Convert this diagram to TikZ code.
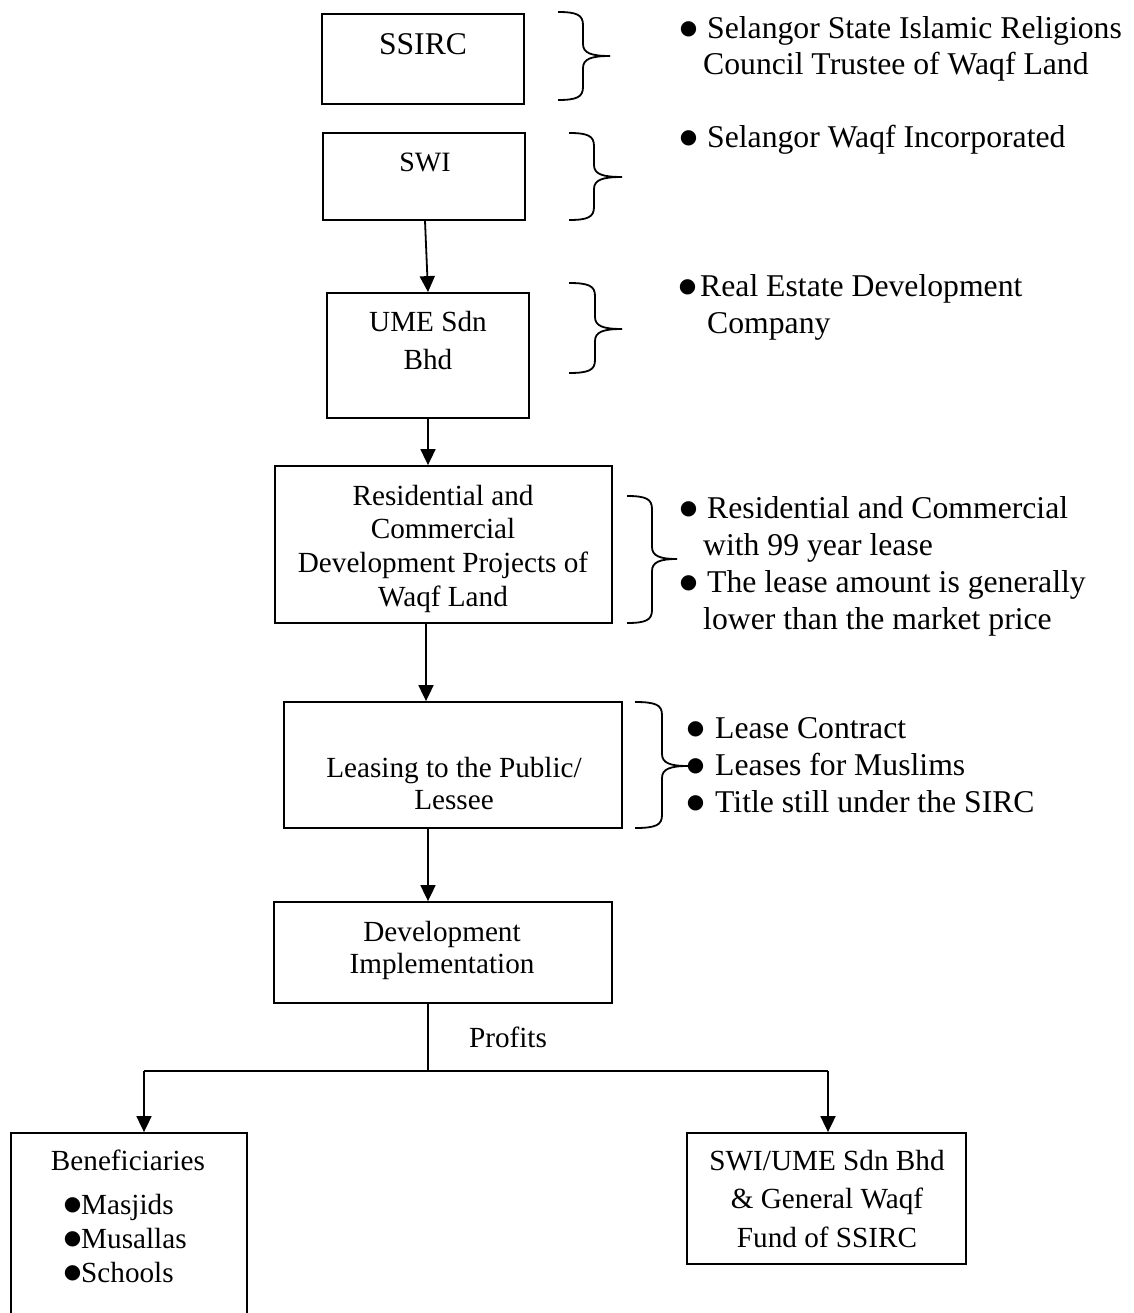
\documentclass[tikz,border=0pt]{standalone}
\usepackage{fontspec}
\setmainfont{Liberation Serif}
\newfontfamily\bulfont{DejaVu Sans}
\usetikzlibrary{arrows.meta}
\newcommand\bul{\makebox[13pt][c]{\raisebox{4pt}{\bulfont\fontsize{20}{20}\selectfont ●}}}
\newcommand\fsz[2]{\fontsize{#1}{#2}\selectfont}
% xl xv xt yt ym yb
\newcommand\mybrace[6]{%
 \draw[brc] (#1,#4) .. controls ({#2-6},#4) and (#2,{#4+3}) .. (#2,{#4+13})
   -- (#2,{#5-12}) .. controls (#2,{#5-3}) and ({#2+8},#5) .. (#3,#5)
   .. controls ({#2+8},#5) and (#2,{#5+3}) .. (#2,{#5+12})
   -- (#2,{#6-13}) .. controls (#2,{#6-3}) and ({#2-6},#6) .. (#1,#6);}
\begin{document}
\begin{tikzpicture}[x=1pt,y=-1pt,
  box/.style={draw, line width=1.8pt, inner sep=0pt, rectangle},
  txt/.style={inner sep=0pt, anchor=base},
  ltxt/.style={inner sep=0pt, anchor=base west},
  arr/.style={line width=1.8pt, -{Triangle[length=16pt,width=15pt]}},
  ln/.style={line width=1.8pt},
  brc/.style={line width=1.8pt},
]
\useasboundingbox (0,0) rectangle (1133,1313);
\fill[white] (0,0) rectangle (1133,1313);
\clip (0,0) rectangle (1133,1313);

% boxes
\node[box, minimum width=202pt, minimum height=90pt]  (ssirc) at (423,59) {};
\node[box, minimum width=202pt, minimum height=87pt]  (swi)   at (424,176.5) {};
\node[box, minimum width=202pt, minimum height=125pt] (ume)   at (428,355.5) {};
\node[box, minimum width=337pt, minimum height=157pt] (res)   at (443.5,544.5) {};
\node[box, minimum width=338pt, minimum height=126pt] (lease) at (453,765) {};
\node[box, minimum width=338pt, minimum height=101pt] (dev)   at (443,952.5) {};
\node[box, minimum width=236pt, minimum height=234pt] (ben)   at (129,1250) {};
\node[box, minimum width=279pt, minimum height=131pt] (fund)  at (826.5,1198.5) {};

% box texts
\node[txt] (ssircT) at (423,55) {\fsz{31.6}{36}SSIRC};
\node[txt] (swiT) at (425,172) {\fsz{28}{32}SWI};
\node[txt] (umeT) at (428,331) {\fsz{29.2}{38}\begin{tabular}[t]{@{}c@{}}UME Sdn\\Bhd\end{tabular}};
\node[txt] (resT) at (443,505) {\fsz{29.2}{33.7}\begin{tabular}[t]{@{}c@{}}Residential and\\Commercial\\Development Projects of\\Waqf Land\end{tabular}};
\node[txt] (leaseT) at (454,777) {\fsz{29.2}{32}\begin{tabular}[t]{@{}c@{}}Leasing to the Public/\\Lessee\end{tabular}};
\node[txt] (devT) at (442,941) {\fsz{29.2}{32}\begin{tabular}[t]{@{}c@{}}Development\\Implementation\end{tabular}};
\node[txt] (benT) at (128,1170) {\fsz{29.2}{34}Beneficiaries};
\node[ltxt] (benL) at (66,1214) {\fsz{29.2}{34}\begin{tabular}[t]{@{}l@{}}\bul\hspace{2pt}Masjids\\\bul\hspace{2pt}Musallas\\\bul\hspace{2pt}Schools\end{tabular}};
\node[txt] (fundT) at (827,1170) {\fsz{29.2}{38.5}\begin{tabular}[t]{@{}c@{}}SWI/UME Sdn Bhd\\\& General Waqf\\Fund of SSIRC\end{tabular}};

% right side notes
\node[ltxt] (n1) at (682,39) {\fsz{31.7}{36}\begin{tabular}[t]{@{}l@{}}\bul\hspace{12pt}Selangor State Islamic Religions\\\hspace*{21pt}Council Trustee of Waqf Land\end{tabular}};
\node[ltxt] (n2) at (682,148) {\fsz{31.7}{36}\bul\hspace{12pt}Selangor Waqf Incorporated};
\node[ltxt] (n3) at (681,297) {\fsz{31.7}{36}\begin{tabular}[t]{@{}l@{}}\bul\hspace{6pt}Real Estate Development\\\hspace*{26pt}Company\end{tabular}};
\node[ltxt] (n4) at (682,518) {\fsz{31.7}{37.3}\begin{tabular}[t]{@{}l@{}}\bul\hspace{12pt}Residential and Commercial\\\hspace*{21pt}with 99 year lease\\\bul\hspace{12pt}The lease amount is generally\\\hspace*{21pt}lower than the market price\end{tabular}};
\node[ltxt] (n5) at (689,738) {\fsz{31.7}{37}\begin{tabular}[t]{@{}l@{}}\bul\hspace{13pt}Lease Contract\\\bul\hspace{13pt}Leases for Muslims\\\bul\hspace{13pt}Title still under the SIRC\end{tabular}};

% braces
\mybrace{558}{583}{610}{12}{56}{100}
\mybrace{569}{594}{622}{133}{177}{220}
\mybrace{569}{595}{622}{283}{329}{373}
\mybrace{627}{652}{677}{496}{559}{623}
\mybrace{635}{662}{688}{702}{766}{828}

% connectors
\draw[arr] ([xshift=1pt]swi.south) -- (ume.north);
\draw[arr] (ume.south) -- (ume.south |- res.north);
\draw[arr] ([xshift=-17.5pt]res.south) -- ([xshift=-17.5pt]res.south |- lease.north);
\draw[arr] ([xshift=-25pt]lease.south) -- ([xshift=-25pt]lease.south |- dev.north);

\coordinate (j)  at (428,1071);
\coordinate (jl) at (144,1071);
\coordinate (jr) at (828,1071);
\draw[ln] (dev.south -| j) -- (j);
\draw[ln] (jl) -- (jr);
\draw[arr] (jl) -- (jl |- ben.north);
\draw[arr] (jr) -- (jr |- fund.north);
\node[txt] (profits) at (508,1047) {\fsz{29.2}{34}Profits};
\end{tikzpicture}
\end{document}
